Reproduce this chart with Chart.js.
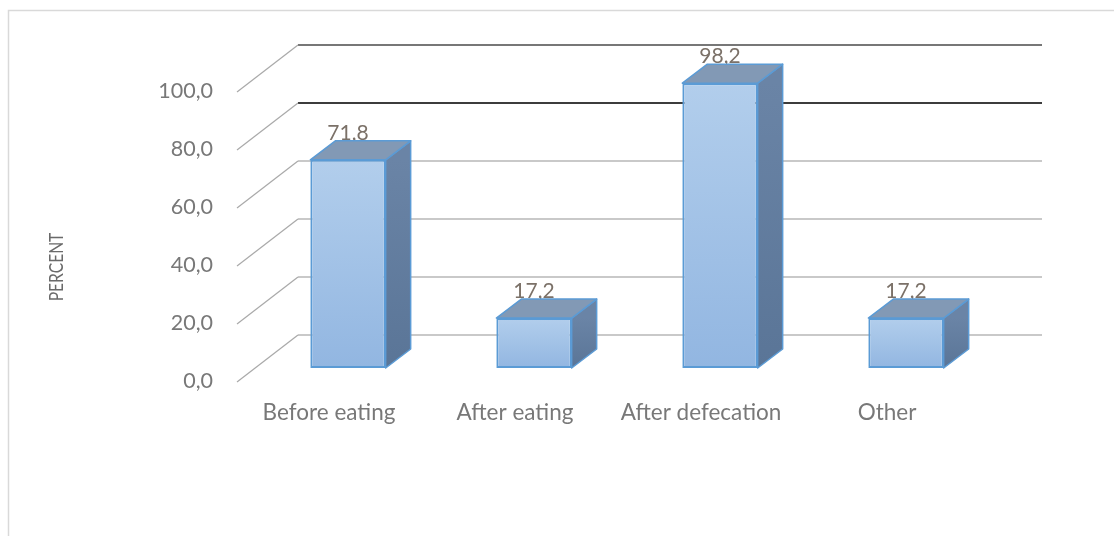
<!DOCTYPE html>
<html>
<head>
<meta charset="utf-8">
<script src="https://cdn.jsdelivr.net/npm/chart.js@4.4.1/dist/chart.umd.min.js"></script>
<style>
  html, body { margin: 0; padding: 0; background: #fff; }
  #wrap { width: 1114px; height: 536px; position: relative; }
</style>
</head>
<body>
<div id="wrap"><canvas id="handwashChart"></canvas></div>
<script>
const categories = ['Before eating', 'After eating', 'After defecation', 'Other'];
const percentValues = [71.8, 17.2, 98.2, 17.2];
const yTicks = [0, 20, 40, 60, 80, 100];
const axisTitle = 'PERCENT';

// fake 3D: offsets (px) measured from the plane of the bar fronts
const BAR_DEPTH = { dx: 25, dy: -19 };
const WALL = { dx: 43, dy: -33 };
const FLOOR = { dx: -18, dy: 14 };

const BLUE_EDGE = '#5b9bd5';
const TEXT_GREY = '#787878';
const FONT = 'Lato, "Open Sans", sans-serif';

const fmt = v => v.toFixed(1).replace('.', ',');

function wallLineColor(v) {
  if (v === 100) return '#777777';
  if (v === 80) return '#3c3c3c';
  return '#c9c9c9';
}

const threeD = {
  id: 'threeD',
  beforeDraw(chart) {
    const ctx = chart.ctx;
    ctx.save();
    ctx.fillStyle = '#fff';
    ctx.fillRect(0, 0, chart.width, chart.height);
    // outer frame (only top and left edges show)
    ctx.strokeStyle = '#d9d9d9';
    ctx.lineWidth = 1.5;
    ctx.beginPath();
    ctx.moveTo(8.5, chart.height);
    ctx.lineTo(8.5, 10.5);
    ctx.lineTo(chart.width, 10.5);
    ctx.stroke();
    ctx.restore();
  },
  beforeDatasetsDraw(chart) {
    const ctx = chart.ctx;
    const { left, right } = chart.chartArea;
    const y = chart.scales.y;
    ctx.save();
    yTicks.forEach(v => {
      const py = y.getPixelForValue(v);
      // back wall gridline
      ctx.strokeStyle = wallLineColor(v);
      ctx.lineWidth = 2;
      ctx.beginPath();
      ctx.moveTo(left + WALL.dx, py + WALL.dy);
      ctx.lineTo(right + WALL.dx, py + WALL.dy);
      ctx.stroke();
      // side wall diagonal
      ctx.strokeStyle = '#a9a9a9';
      ctx.lineWidth = 1.2;
      ctx.beginPath();
      ctx.moveTo(left + FLOOR.dx, py + FLOOR.dy);
      ctx.lineTo(left + WALL.dx, py + WALL.dy);
      ctx.stroke();
    });
    // value labels sit just above the bars; the top faces overlap them
    const meta = chart.getDatasetMeta(0);
    ctx.fillStyle = '#7b7168';
    ctx.font = '21px ' + FONT;
    ctx.textAlign = 'center';
    ctx.textBaseline = 'alphabetic';
    meta.data.forEach((bar, i) => {
      ctx.fillText(fmt(percentValues[i]), bar.x, bar.y - 20);
    });
    ctx.restore();
  },
  afterDatasetsDraw(chart) {
    const ctx = chart.ctx;
    const meta = chart.getDatasetMeta(0);
    const { dx, dy } = BAR_DEPTH;
    ctx.save();
    ctx.lineWidth = 1.5;
    ctx.strokeStyle = BLUE_EDGE;
    ctx.lineJoin = 'round';
    meta.data.forEach(bar => {
      const l = bar.x - bar.width / 2;
      const r = bar.x + bar.width / 2;
      const t = bar.y;
      const b = bar.base;
      // side face
      const side = ctx.createLinearGradient(0, t, 0, b);
      side.addColorStop(0, '#6a84a6');
      side.addColorStop(1, '#5a7597');
      ctx.fillStyle = side;
      ctx.beginPath();
      ctx.moveTo(r, t);
      ctx.lineTo(r + dx, t + dy);
      ctx.lineTo(r + dx, b + dy);
      ctx.lineTo(r, b);
      ctx.closePath();
      ctx.fill();
      ctx.stroke();
      // top face
      ctx.fillStyle = '#8299b5';
      ctx.beginPath();
      ctx.moveTo(l, t);
      ctx.lineTo(l + dx, t + dy);
      ctx.lineTo(r + dx, t + dy);
      ctx.lineTo(r, t);
      ctx.closePath();
      ctx.fill();
      ctx.stroke();
    });
    ctx.restore();
  },
  afterDraw(chart) {
    // rotated axis title, a little condensed
    const ctx = chart.ctx;
    ctx.save();
    ctx.translate(57, 267);
    ctx.rotate(-Math.PI / 2);
    ctx.scale(0.82, 1);
    ctx.font = '19px ' + FONT;
    ctx.fillStyle = '#6a6a6a';
    ctx.textAlign = 'center';
    ctx.textBaseline = 'middle';
    ctx.fillText(axisTitle, 0, 0);
    ctx.restore();
  }
};

new Chart(document.getElementById('handwashChart'), {
  type: 'bar',
  data: {
    labels: categories,
    datasets: [{
      data: percentValues,
      backgroundColor(c) {
        const chart = c.chart;
        if (!chart.chartArea) return '#a0c0e6';
        const y = chart.scales.y;
        const top = y.getPixelForValue(c.raw);
        const g = chart.ctx.createLinearGradient(0, top, 0, y.getPixelForValue(0));
        g.addColorStop(0, '#b2ceec');
        g.addColorStop(1, '#92b6e1');
        return g;
      },
      borderColor: BLUE_EDGE,
      borderWidth: 2,
      borderSkipped: false,
      categoryPercentage: 1,
      barPercentage: 0.405
    }]
  },
  options: {
    responsive: true,
    maintainAspectRatio: false,
    animation: false,
    layout: { padding: { left: 0, top: 78, right: 115, bottom: 0 } },
    plugins: { legend: { display: false }, tooltip: { enabled: false } },
    scales: {
      x: {
        grid: { display: false, drawTicks: false },
        border: { display: false },
        afterFit(scale) { scale.height = 168; },
        ticks: {
          color: TEXT_GREY,
          font: { family: FONT, size: 22.5 },
          padding: 31,
          labelOffset: -19,
          maxRotation: 0
        }
      },
      y: {
        min: 0,
        max: 100,
        grid: { display: false, drawTicks: false },
        border: { display: false },
        afterFit(scale) { scale.width = 255; },
        afterBuildTicks(scale) { scale.ticks = yTicks.map(v => ({ value: v })); },
        ticks: {
          color: TEXT_GREY,
          font: { family: FONT, size: 21.5 },
          padding: 42,
          labelOffset: 13,
          callback: v => fmt(v)
        }
      }
    }
  },
  plugins: [threeD]
});
</script>
</body>
</html>
